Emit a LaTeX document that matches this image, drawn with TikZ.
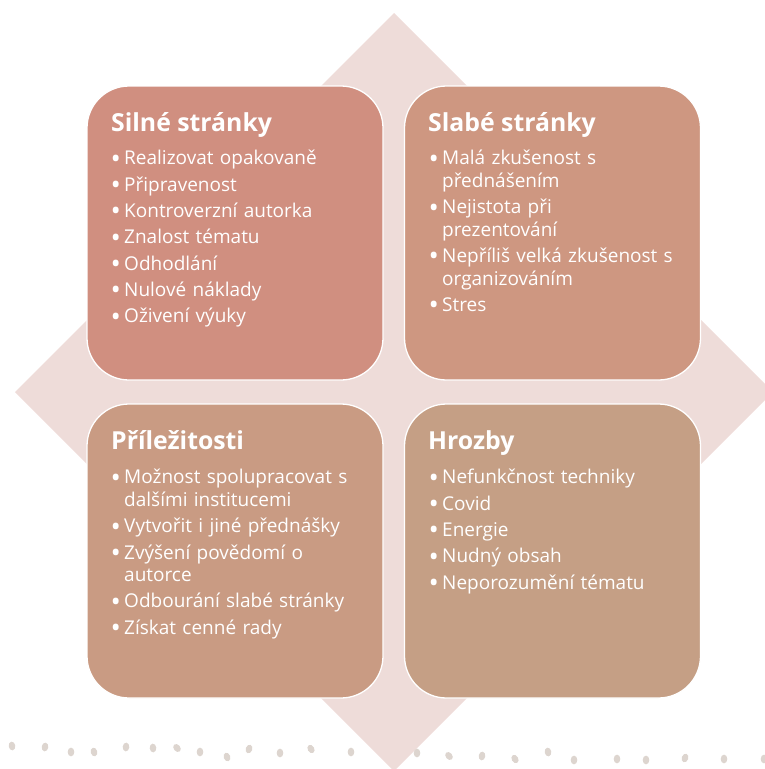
\documentclass[tikz,border=0pt]{standalone}
\usepackage{fontspec}
\setmainfont{Open Sans}
\definecolor{diam}{HTML}{EEDCD9}
\definecolor{cSW}{HTML}{D08F80}
\definecolor{cWE}{HTML}{CE9781}
\definecolor{cOP}{HTML}{C99B83}
\definecolor{cTH}{HTML}{C59F85}
\definecolor{dotc}{HTML}{DDD5CF}
\tikzset{
  quad/.style={rounded corners=42pt, draw=white, line width=1.3pt, minimum width=296pt, minimum height=294pt, inner sep=0pt},
  ttl/.style={anchor=base west, inner sep=0pt, text=white, font=\fontsize{24.8}{28}\selectfont\bfseries},
  lst/.style={anchor=north west, inner sep=0pt, text=white, text width=285pt, align=left, font=\fontsize{19}{22.5}\selectfont},
  spot/.style={fill=dotc, draw=none}
}
\newcommand{\bitem}[1]{\hangindent=12pt\hangafter=1\noindent\makebox[12pt][l]{\hspace*{-1.5pt}\raisebox{-3.3pt}{\scalebox{1.45}{\textbullet}}}#1\par}
\newcommand{\lstsetup}{\setlength{\parskip}{3.8pt}\hyphenpenalty=10000\strut}
\begin{document}
\begin{tikzpicture}[x=1pt,y=-1pt]
\useasboundingbox (0,0) rectangle (765,769);
\begin{scope}
\clip (0,0) rectangle (765,769);
\fill[diam] (394,13) -- (773,392) -- (394,771) -- (15,392) -- cycle;
\end{scope}
% dots
\foreach \px/\py/\rr in {12/746/10, 45/747/-10, 71/752/0, 94/752/15, 126/747/-5, 153/748/5, 177/748/40, 200/752/0, 227/757/20, 249/749/-20, 280/753/0, 311/749/30, 351/752/0, 417/753/0, 449/756/40, 482/756/-10, 515/759/30, 548/752/10, 574/760/0, 617/759/0, 646/760/0, 685/758/-20, 724/759/0, 764/759/0}
  \fill[spot, rotate around={\rr:(\px,\py)}] (\px,\py) ellipse (3.3pt and 4.4pt);
% boxes
\node[quad, fill=cSW] (sw) at (235,233) {};
\node[quad, fill=cWE] (we) at (552.5,233) {};
\node[quad, fill=cOP] (op) at (235,551) {};
\node[quad, fill=cTH] (th) at (552.5,551) {};
% titles
\node[ttl] (swt) at (111,131) {Silné stránky};
\node[ttl] (wet) at (428,131) {Slabé stránky};
\node[ttl] (opt) at (111,449) {Příležitosti};
\node[ttl] (tht) at (428,449) {Hrozby};
% lists
\node[lst] (swl) at (112,149) {\lstsetup
\bitem{Realizovat opakovaně}
\bitem{Připravenost}
\bitem{Kontroverzní autorka}
\bitem{Znalost tématu}
\bitem{Odhodlání}
\bitem{Nulové náklady}
\bitem{Oživení výuky}};
\node[lst] (wel) at (430,149) {\lstsetup
\bitem{Malá zkušenost s\newline přednášením}
\bitem{Nejistota při\newline prezentování}
\bitem{Nepříliš velká zkušenost s\newline organizováním}
\bitem{Stres}};
\node[lst] (opl) at (112,468) {\lstsetup
\bitem{Možnost spolupracovat s\newline dalšími institucemi}
\bitem{Vytvořit i jiné přednášky}
\bitem{Zvýšení povědomí o\newline autorce}
\bitem{Odbourání slabé stránky}
\bitem{Získat cenné rady}};
\node[lst] (thl) at (430,468) {\lstsetup
\bitem{Nefunkčnost techniky}
\bitem{Covid}
\bitem{Energie}
\bitem{Nudný obsah}
\bitem{Neporozumění tématu}};
\end{tikzpicture}
\end{document}
